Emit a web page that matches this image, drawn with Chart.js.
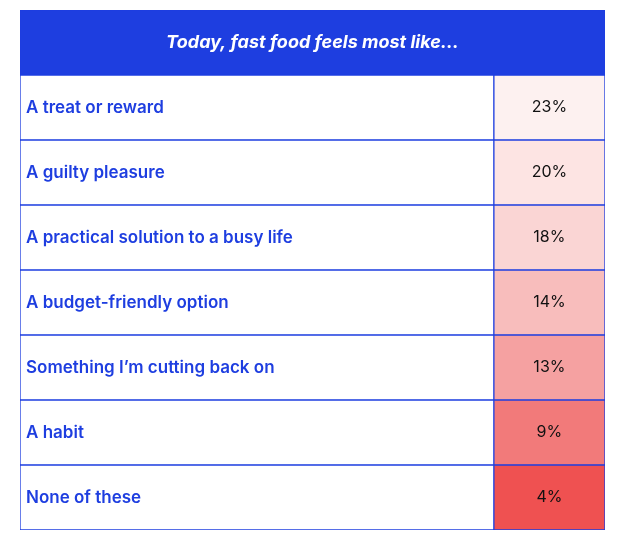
<!DOCTYPE html>
<html>
<head>
<meta charset="utf-8">
<script src="https://cdn.jsdelivr.net/npm/chart.js@4"></script>
<style>
  html, body { margin: 0; padding: 0; background: #fff; }
  #wrap { width: 627px; height: 536px; }
</style>
</head>
<body>
<div id="wrap"><canvas id="tableChart"></canvas></div>
<script>
const title = 'Today, fast food feels most like...';
const categories = [
  'A treat or reward',
  'A guilty pleasure',
  'A practical solution to a busy life',
  'A budget-friendly option',
  'Something I\u2019m cutting back on',
  'A habit',
  'None of these',
];
const values = [23, 20, 18, 14, 13, 9, 4];
const cellColors = ['#fdf1f0', '#fde4e3', '#fad5d4', '#f8bdbc', '#f5a1a1', '#f27a7a', '#ef5151'];

const BLUE = '#1e3ee0';
const SPLIT = 0.81;
const rows = ['__header', ...categories];

const textPlugin = {
  id: 'cellText',
  afterDatasetsDraw(chart) {
    const { ctx, scales: { x, y } } = chart;
    ctx.save();
    ctx.textBaseline = 'middle';
    rows.forEach((row, i) => {
      const cy = y.getPixelForValue(i);
      if (i === 0) {
        ctx.fillStyle = '#fff';
        ctx.font = 'italic bold 18px Inter, sans-serif';
        ctx.textAlign = 'center';
        ctx.fillText(title, x.getPixelForValue(0.5), cy);
        return;
      }
      ctx.fillStyle = BLUE;
      ctx.font = '600 17px Inter, sans-serif';
      ctx.textAlign = 'left';
      ctx.fillText(row, x.getPixelForValue(0) + 6, cy);
      ctx.fillStyle = '#111';
      ctx.font = '16px Inter, sans-serif';
      ctx.textAlign = 'center';
      ctx.fillText(values[i - 1] + '%', x.getPixelForValue((SPLIT + 1) / 2), cy);
    });
    ctx.restore();
  },
};

new Chart(document.getElementById('tableChart'), {
  type: 'bar',
  data: {
    labels: rows,
    datasets: [
      {
        label: 'Label column',
        data: rows.map((r, i) => (i === 0 ? [0, 1] : [0, SPLIT])),
        backgroundColor: rows.map((r, i) => (i === 0 ? BLUE : '#fff')),
        borderColor: BLUE,
        borderWidth: 1,
        borderSkipped: false,
        grouped: false,
      },
      {
        label: 'Value column',
        data: rows.map((r, i) => (i === 0 ? null : [SPLIT, 1])),
        backgroundColor: ['#fff', ...cellColors],
        borderColor: BLUE,
        borderWidth: 1,
        borderSkipped: false,
        grouped: false,
      },
    ],
  },
  options: {
    indexAxis: 'y',
    responsive: true,
    maintainAspectRatio: false,
    animation: false,
    datasets: { bar: { barPercentage: 1, categoryPercentage: 1 } },
    layout: { padding: { left: 20, right: 22, top: 10, bottom: 6 } },
    plugins: { legend: { display: false }, tooltip: { enabled: false } },
    scales: {
      x: { display: false, min: 0, max: 1 },
      y: { display: false },
    },
  },
  plugins: [textPlugin],
});
</script>
</body>
</html>
